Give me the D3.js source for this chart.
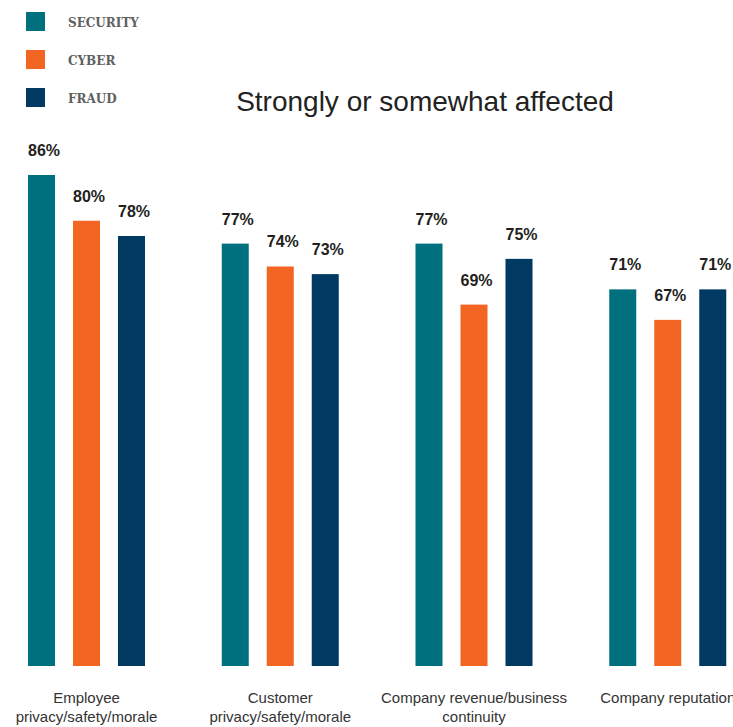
<!DOCTYPE html>
<html lang="en">
<head>
    <meta charset="UTF-8">
    <title>Strongly or somewhat affected</title>
    <script src="https://d3js.org/d3.v7.min.js"></script>
    <style>
        body { margin: 0; background: #fff; }
        .title {
            font-family: "Liberation Sans", Arial, sans-serif;
            font-size: 28px;
            fill: #222;
        }
        .legend text {
            font-family: "DejaVu Serif", serif;
            font-weight: bold;
            font-size: 12px;
            fill: #606060;
        }
        .value {
            font-family: "Liberation Sans", Arial, sans-serif;
            font-weight: bold;
            font-size: 16px;
            fill: #231f20;
        }
        .cat {
            font-family: "Liberation Sans", Arial, sans-serif;
            font-size: 15px;
            fill: #333;
        }
    </style>
</head>
<body>
    <svg width="733" height="727"></svg>

    <script>
        var categories = [
            ["Employee", "privacy/safety/morale"],
            ["Customer", "privacy/safety/morale"],
            ["Company revenue/business", "continuity"],
            ["Company reputation"]
        ];
        var seriesNames = ["SECURITY", "CYBER", "FRAUD"];
        var security = [86, 77, 77, 71];
        var cyber = [80, 74, 69, 67];
        var fraud = [78, 73, 75, 71];
        var colors = ["#00707f", "#f26522", "#003a63"];

        var svg = d3.select("svg");

        var baseline = 666;

        // groups
        var x0 = d3.scaleBand()
                   .domain(d3.range(categories.length))
                   .range([-10, 765])
                   .paddingInner(0)
                   .paddingOuter(0);

        var x1 = d3.scaleBand()
                   .domain(seriesNames)
                   .range([38, 155])
                   .paddingInner(0.4);

        // the chart's value axis does not start at zero
        var y = d3.scaleLinear().domain([21.6, 86]).range([baseline, 175]);

        var color = d3.scaleOrdinal().domain(seriesNames).range(colors);

        var rows = [];
        categories.forEach(function(c, i) {
            rows.push({ cat: i, series: "SECURITY", value: security[i] });
            rows.push({ cat: i, series: "CYBER", value: cyber[i] });
            rows.push({ cat: i, series: "FRAUD", value: fraud[i] });
        });

        var bars = svg.append("g");

        bars.selectAll("rect")
            .data(rows)
            .enter()
            .append("rect")
            .attr("x", function(d) { return x0(d.cat) + x1(d.series); })
            .attr("y", function(d) { return y(d.value); })
            .attr("width", x1.bandwidth())
            .attr("height", function(d) { return baseline - y(d.value); })
            .style("fill", function(d) { return color(d.series); });

        bars.selectAll("text")
            .data(rows)
            .enter()
            .append("text")
            .attr("class", "value")
            .attr("x", function(d) { return x0(d.cat) + x1(d.series); })
            .attr("y", function(d) { return y(d.value) - 19; })
            .text(function(d) { return d.value + "%"; });

        // category labels
        var cats = svg.append("g");
        categories.forEach(function(lines, i) {
            var cx = x0(i) + (x1.range()[0] + x1.range()[1]) / 2;
            var t = cats.append("text")
                        .attr("class", "cat")
                        .attr("text-anchor", "middle")
                        .attr("x", cx)
                        .attr("y", 703);
            lines.forEach(function(l, j) {
                t.append("tspan")
                 .attr("x", cx)
                 .attr("dy", j === 0 ? 0 : 19)
                 .text(l);
            });
        });

        svg.append("text")
           .attr("class", "title")
           .attr("x", 425)
           .attr("y", 111)
           .attr("text-anchor", "middle")
           .text("Strongly or somewhat affected");

        var legend = svg.append("g")
                        .attr("class", "legend")
                        .attr("transform", "translate(26,12)");

        var legendItems = legend.selectAll("g")
                                .data(seriesNames)
                                .enter()
                                .append("g")
                                .attr("transform", function(d, i) {
                                    return "translate(0," + (i * 38) + ")";
                                });

        legendItems.append("rect")
                   .attr("width", 19)
                   .attr("height", 19)
                   .style("fill", function(d) { return color(d); });

        legendItems.append("text")
                   .attr("x", 42)
                   .attr("y", 15)
                   .text(function(d) { return d; });
    </script>
</body>
</html>
